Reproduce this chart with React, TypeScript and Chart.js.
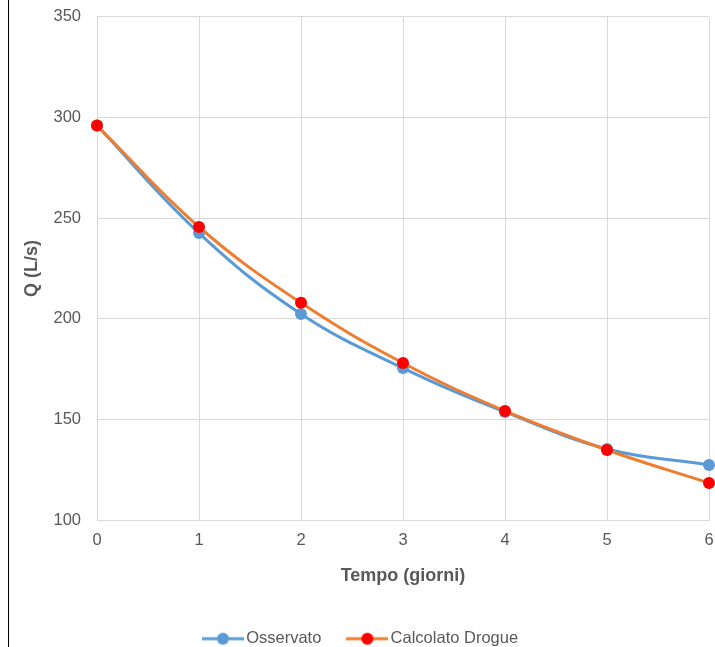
import React, { useEffect, useRef } from "react";
import { Chart, registerables } from "chart.js";
Chart.register(...registerables);

const categories = ["0", "1", "2", "3", "4", "5", "6"];
const osservato = [296, 242.6, 202.4, 175.5, 153.7, 135.3, 127.3];
const calcolato = [296, 245.6, 207.9, 178, 154.2, 134.8, 118.4];
const yMin = 100;
const yMax = 350;
const yStep = 50;

const BLUE = "#5B9BD5";
const ORANGE = "#ED7D31";
const RED = "#FF0000";
const TXT = "#595959";
const GRID = "#D9D9D9";
const FONT = "'Liberation Sans', Arial, sans-serif";

function legendIcon(line: string, point: string) {
  const c = document.createElement("canvas");
  c.width = 42;
  c.height = 14;
  const ctx = c.getContext("2d")!;
  ctx.strokeStyle = line;
  ctx.lineWidth = 3;
  ctx.beginPath();
  ctx.moveTo(0, 7);
  ctx.lineTo(42, 7);
  ctx.stroke();
  ctx.fillStyle = point;
  ctx.beginPath();
  ctx.arc(21, 7, 6, 0, Math.PI * 2);
  ctx.fill();
  return c;
}

export default function App() {
  const ref = useRef<HTMLCanvasElement>(null);
  useEffect(() => {
    const icons = [legendIcon(BLUE, BLUE), legendIcon(ORANGE, RED)];
    const chart = new Chart(ref.current!, {
      type: "line",
      data: {
        labels: categories,
        datasets: [
          {
            label: "Osservato",
            data: osservato,
            borderColor: BLUE,
            backgroundColor: BLUE,
            pointBackgroundColor: BLUE,
            pointBorderColor: BLUE,
            borderWidth: 3,
            pointRadius: 6,
            pointBorderWidth: 0,
            tension: 0.4,
            order: 1,
          },
          {
            label: "Calcolato Drogue",
            data: calcolato,
            borderColor: ORANGE,
            backgroundColor: RED,
            pointBackgroundColor: RED,
            pointBorderColor: RED,
            borderWidth: 3,
            pointRadius: 6,
            pointBorderWidth: 0,
            tension: 0.4,
            order: 0,
          },
        ],
      },
      options: {
        animation: false,
        responsive: true,
        maintainAspectRatio: false,
        layout: { padding: { left: 8, top: 0, right: 40, bottom: 0 } },
        plugins: {
          tooltip: { enabled: false },
          legend: {
            position: "bottom",
            labels: {
              usePointStyle: true,
              pointStyleWidth: 30,
              padding: 31,
              color: TXT,
              font: { family: FONT, size: 16.5 },
              generateLabels: (ch: any) =>
                ch.data.datasets.map((ds: any, i: number) => ({
                  text: ds.label,
                  pointStyle: icons[i],
                  fillStyle: "transparent",
                  strokeStyle: "transparent",
                  lineWidth: 0,
                  hidden: false,
                  datasetIndex: i,
                  fontColor: TXT,
                })),
            },
          },
        },
        scales: {
          x: {
            type: "category",
            offset: false,
            grid: { color: GRID, drawTicks: false, lineWidth: 1 },
            border: { color: GRID },
            ticks: { color: TXT, padding: 11, font: { family: FONT, size: 16.5 }, maxRotation: 0 },
            title: {
              display: true,
              text: "Tempo (giorni)",
              color: TXT,
              font: { family: FONT, size: 18, weight: "bold" },
              padding: { top: 0, bottom: 13 },
            },
            afterFit: (s: any) => {
              s.height = 79.5;
            },
          },
          y: {
            min: yMin,
            max: yMax,
            grid: { color: GRID, drawTicks: false, lineWidth: 1 },
            border: { color: GRID },
            ticks: { stepSize: yStep, color: TXT, padding: 16, font: { family: FONT, size: 16.5 } },
            title: {
              display: true,
              text: "Q (L/s)",
              color: TXT,
              font: { family: FONT, size: 18, weight: "bold" },
              padding: { top: 4, bottom: 0 },
            },
            afterFit: (s: any) => {
              s.width = 80;
            },
          },
        },
      },
    });
    return () => chart.destroy();
  }, []);

  return (
    <div
      style={{
        position: "fixed",
        left: 8,
        top: 0,
        width: 707,
        height: 647,
        overflow: "hidden",
        borderLeft: "1px solid #000",
        boxSizing: "border-box",
        background: "#fff",
      }}
    >
      <div style={{ position: "absolute", left: 0, top: -9, width: 740, height: 666 }}>
        <canvas ref={ref} />
      </div>
    </div>
  );
}
